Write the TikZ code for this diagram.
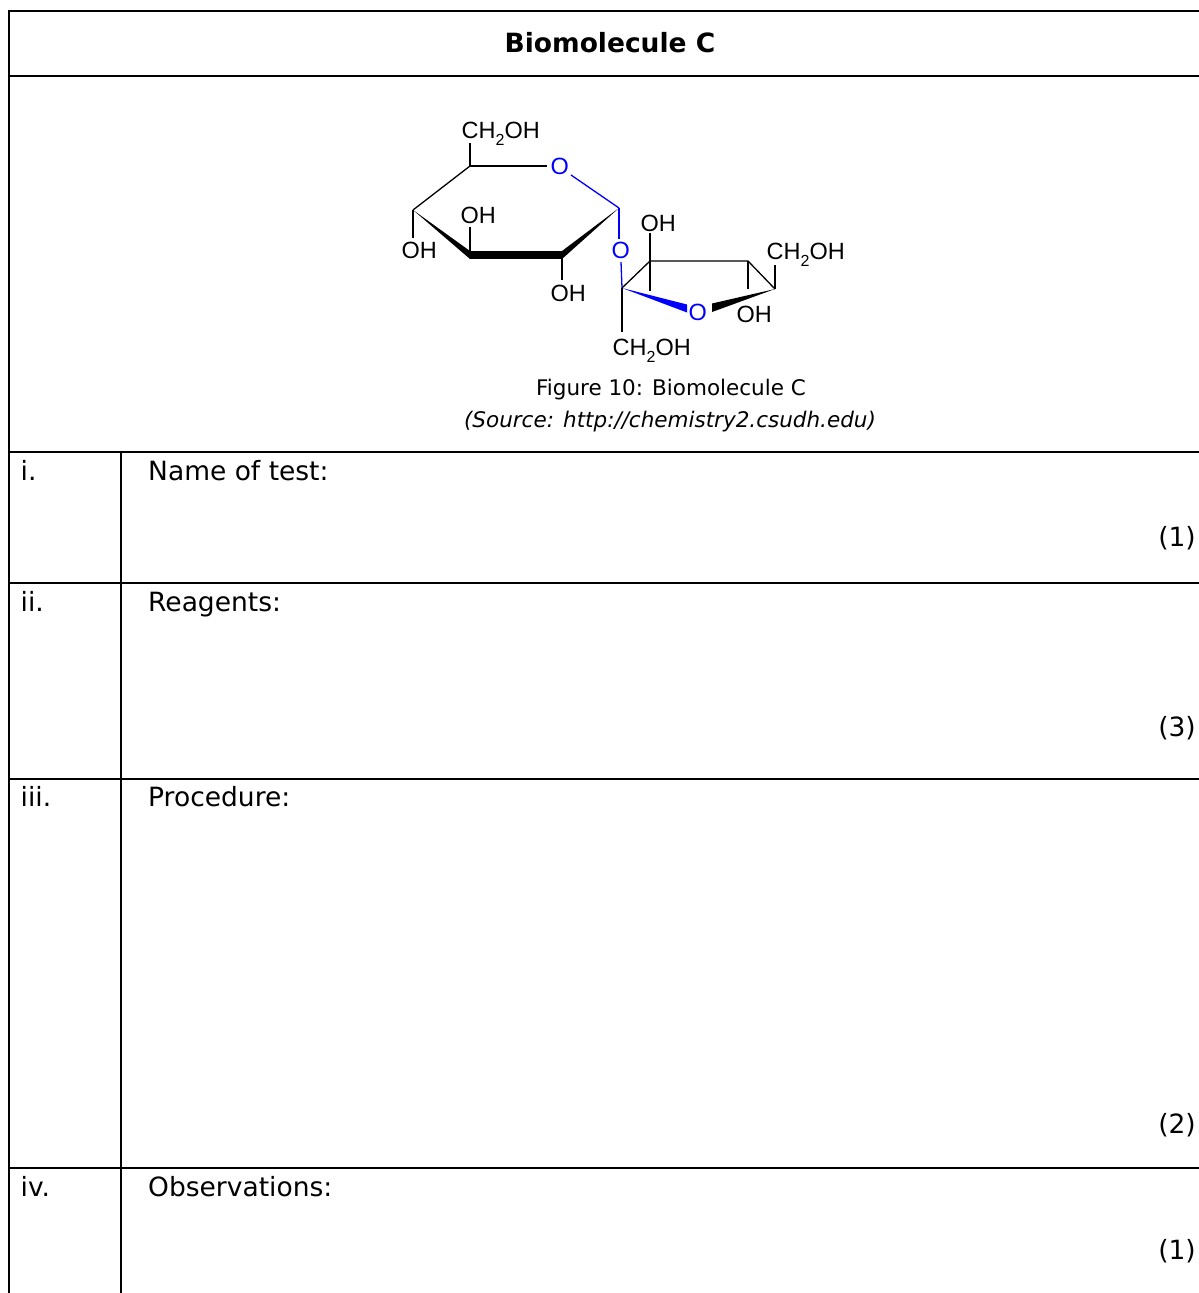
\documentclass[tikz,border=0pt]{standalone}
\usepackage{fontspec}
\setmainfont{DejaVu Sans}
\newfontfamily\chemfont{Liberation Sans}
\usetikzlibrary{calc}
\definecolor{chemblue}{RGB}{0,0,255}
\newcommand{\subtwo}{\raisebox{-0.28em}{\fontsize{16}{16}\selectfont 2}}
\begin{document}
\begin{tikzpicture}[x=1pt,y=-1pt,
  tbl/.style={line width=2.7pt},
  bond/.style={line width=1.3pt},
  bbond/.style={line width=1.3pt, draw=chemblue},
  body/.style={font=\fontsize{26.5}{31}\selectfont, inner sep=0pt},
  title/.style={font=\fontsize{26.5}{31}\selectfont\bfseries, inner sep=0pt},
  capt/.style={font=\fontsize{21.5}{26}\selectfont, inner sep=0pt},
  lbl/.style={font=\chemfont\fontsize{23.5}{25}\selectfont, inner sep=0pt, anchor=base west},
  olbl/.style={lbl, text=chemblue}]
\useasboundingbox (0,0) rectangle (1199,1293);
\fill[white] (0,0) rectangle (1199,1293);

% ---------- table ----------
\draw[tbl] (9,11) -- (1215,11);
\draw[tbl] (9,76) -- (1215,76);
\draw[tbl] (9,452) -- (1215,452);
\draw[tbl] (9,583) -- (1215,583);
\draw[tbl] (9,779) -- (1215,779);
\draw[tbl] (9,1168) -- (1215,1168);
\draw[tbl] (9,9.65) -- (9,1300);
\draw[tbl] (121,452) -- (121,1300);

\node[title, anchor=base] (ttl) at (610,52) {Biomolecule C};

\node[capt, anchor=base] (cap) at (671,395) {Figure 10: Biomolecule C};
\node[capt, anchor=base] (src) at (670,427) {\itshape (Source: http://chemistry2.csudh.edu)};

\node[body, anchor=base west] (n1) at (20.5,480) {i.};
\node[body, anchor=base west] (t1) at (148,480) {Name of test:};
\node[body, anchor=base east] (m1) at (1196,546) {(1)};
\node[body, anchor=base west] (n2) at (20.5,611.5) {ii.};
\node[body, anchor=base west] (t2) at (148,611.5) {Reagents:};
\node[body, anchor=base east] (m2) at (1196,736) {(3)};
\node[body, anchor=base west] (n3) at (20.5,806) {iii.};
\node[body, anchor=base west] (t3) at (148,806) {Procedure:};
\node[body, anchor=base east] (m3) at (1196,1133) {(2)};
\node[body, anchor=base west] (n4) at (20.5,1196) {iv.};
\node[body, anchor=base west] (t4) at (148,1196) {Observations:};
\node[body, anchor=base east] (m4) at (1196,1259) {(1)};

% ---------- molecule: glucose ring ----------
\coordinate (C1) at (619,208);
\coordinate (C2) at (562,255);
\coordinate (C3) at (470,255);
\coordinate (C4) at (413,210);
\coordinate (C5) at (470,166);

\node[olbl] (O5) at (550.5,174.5) {O};
\node[olbl] (O1) at (611.5,258.5) {O};
\node[lbl] (L6) at (461.5,138.5) {CH\subtwo OH};
\node[lbl] (L4) at (401.5,258.5) {OH};
\node[lbl] (L3) at (460.5,223) {OH};
\node[lbl] (L2) at (550.5,301.5) {OH};

\draw[bond] (C5) -- (547,166);
\draw[bbond] (571,175) -- (C1);
\draw[bond] (C5) -- (C4);
\draw[bond] (C5) -- (470,143);
\draw[bond] (C4) -- (413,238);
\draw[bond] (C3) -- (470,227);
\draw[bond] (C2) -- (562,280);
\fill (C4) -- (470,251) -- (470,259) -- cycle;
\fill (470,251) rectangle (562,259);
\fill (562,251) -- (C1) -- (562,259) -- cycle;
\draw[bbond] (C1) -- (619,239);

% ---------- molecule: fructose ring ----------
\coordinate (D2) at (622,288);
\coordinate (D3) at (650,261);
\coordinate (D4) at (748,261);
\coordinate (D5) at (775,289);

\node[olbl] (O2) at (688.5,320.5) {O};
\node[lbl] (L1f) at (612.5,355.5) {CH\subtwo OH};
\node[lbl] (L3f) at (640.5,231.5) {OH};
\node[lbl] (L6f) at (766.5,259.5) {CH\subtwo OH};
\node[lbl] (L4f) at (736.5,322.5) {OH};

\draw[bbond] (621,262) -- (D2);
\draw[bond] (D2) -- (D3) -- (D4) -- (D5);
\draw[bond] (D2) -- (622,332);
\draw[bond] (D3) -- (650,233);
\draw[bond] (D3) -- (650,291);
\draw[bond] (D4) -- (748,289);
\draw[bond] (D5) -- (775,265);
\fill[chemblue] (D2) -- (687,304.5) -- (687,312.5) -- cycle;
\fill (712,303.5) -- (712,312) -- (D5) -- cycle;
\end{tikzpicture}
\end{document}
